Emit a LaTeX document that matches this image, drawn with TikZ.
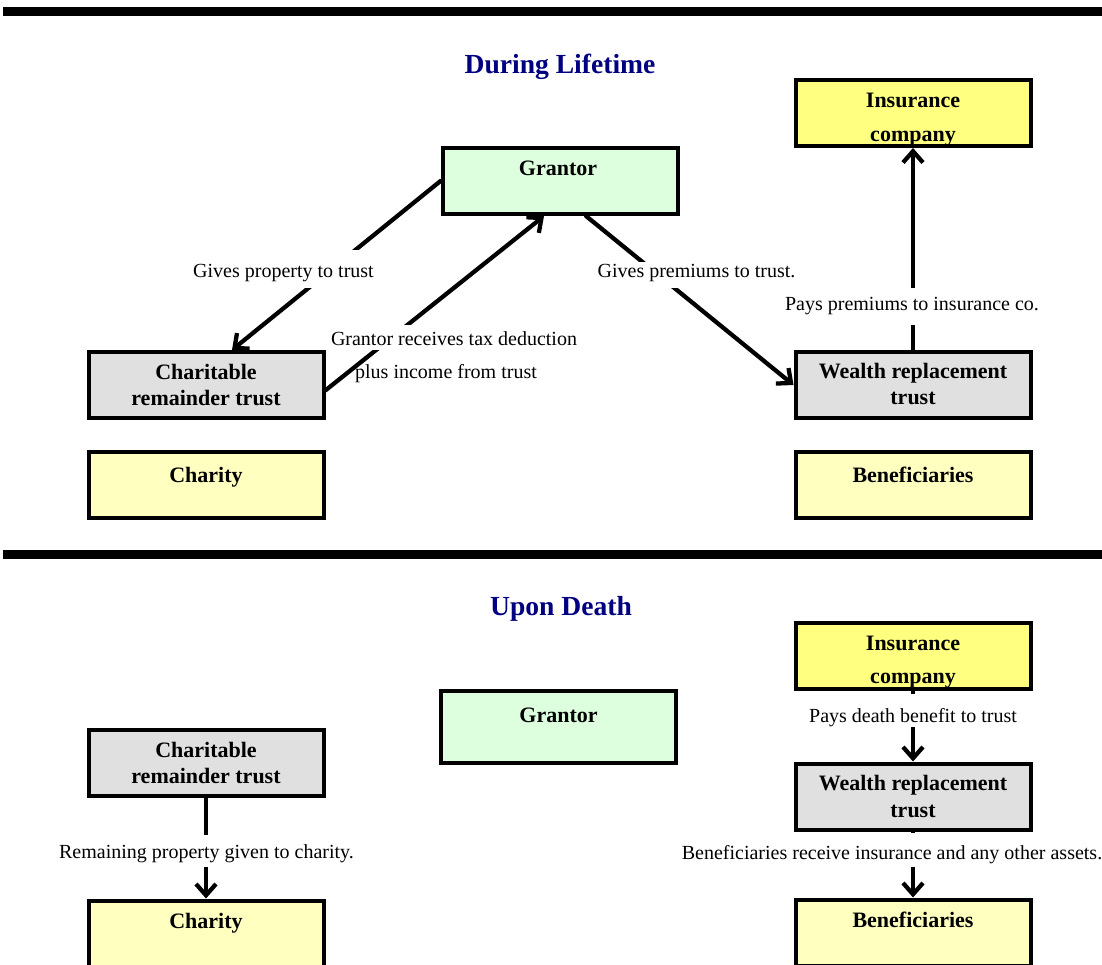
\documentclass[tikz,border=0pt]{standalone}
\usepackage{fontspec}
\setmainfont{Liberation Serif}
\usetikzlibrary{arrows.meta}
\definecolor{gfill}{HTML}{DDFFDD}
\definecolor{ifill}{HTML}{FFFF80}
\definecolor{tfill}{HTML}{E0E0E0}
\definecolor{cfill}{HTML}{FFFFC0}
\definecolor{navyt}{HTML}{000080}
\begin{document}
\begin{tikzpicture}[x=0.75pt,y=-0.75pt,
  box/.style={draw=black, line width=3pt, minimum width=176.25pt, minimum height=49.5pt, inner sep=0pt},
  btxt/.style={font=\fontsize{16.5}{20}\selectfont\bfseries, anchor=base, inner sep=0pt},
  ttl/.style={font=\fontsize{20.7}{25}\selectfont\bfseries, text=navyt, anchor=base, inner sep=0pt},
  lbl/.style={font=\fontsize{15}{18}\selectfont, anchor=base, inner xsep=2pt, inner ysep=0pt, fill=white},
  conn/.style={line width=3.2pt, line cap=round},
  arr/.style={conn, -{Straight Barb[length=8.5pt,width=15pt]}},
  bar/.style={line width=6.75pt}
]
\useasboundingbox (0,0) rectangle (1102,964);
\clip (0,0) rectangle (1102,964);

% section bars
\draw[bar] (3,11.5) -- (1102,11.5);
\draw[bar] (3,554.5) -- (1102,554.5);

% titles
\node[ttl] (t1) at (560,73) {During Lifetime};
\node[ttl] (t2) at (561,615) {Upon Death};

% boxes: during lifetime
\node[box, fill=ifill] (ins1) at (913,113) {};
\node[box, fill=gfill] (g1) at (560,181) {};
\node[box, fill=tfill] (crt1) at (206,385) {};
\node[box, fill=cfill] (ch1) at (206,485) {};
\node[box, fill=tfill] (wrt1) at (913,385) {};
\node[box, fill=cfill] (ben1) at (913,485) {};

% boxes: upon death
\node[box, fill=ifill] (ins2) at (913,656) {};
\node[box, fill=gfill, minimum height=54pt] (g2) at (558.5,726.5) {};
\node[box, fill=tfill] (crt2) at (206,763) {};
\node[box, fill=tfill] (wrt2) at (913,796.5) {};
\node[box, fill=cfill] (ch2) at (206,933.5) {};
\node[box, fill=cfill] (ben2) at (913,932.5) {};

% connectors
\draw[arr] (g1.west) -- ([xshift=19.5pt]crt1.north);
\draw[arr] ([yshift=-4pt]crt1.east) -- ([xshift=-12pt]g1.south);
\draw[arr] ([xshift=19.5pt]g1.south) -- (wrt1.west);
\draw[arr] (wrt1.north) -- (ins1.south);
\draw[arr] (crt2.south) -- (ch2.north);
\draw[arr] (ins2.south) -- (wrt2.north);
\draw[arr] (wrt2.south) -- (ben2.north);

% connector labels
\node[lbl, text height=20.25pt, text depth=8.25pt] (l1) at (283.5,277) {Gives property to trust};
\node[lbl, text height=15pt, text depth=3.75pt] (l2) at (454,345) {Grantor receives tax deduction};
\node[lbl, fill=none] (l3) at (446,378) {plus income from trust};
\node[lbl, text height=11.25pt, text depth=8.25pt] (l4) at (696.5,277) {Gives premiums to trust.};
\node[lbl, text height=16.5pt, text depth=11.25pt] (l5) at (912,310) {Pays premiums to insurance co.};
\node[lbl, text height=21pt, text depth=3.75pt] (l6) at (913,722) {Pays death benefit to trust};
\node[lbl, text height=17.25pt, text depth=6.75pt] (l7) at (206.5,858) {Remaining property given to charity.};
\node[lbl, text height=19.5pt, text depth=6pt] (l8) at (892,859) {Beneficiaries receive insurance and any other assets.};

% box texts: during lifetime
\node[btxt] (g1t) at (558,175) {Grantor};
\node[btxt] (ins1a) at (913,107) {Insurance};
\node[btxt] (ins1b) at (913,141) {company};
\node[btxt] (crt1a) at (206,379) {Charitable};
\node[btxt] (crt1b) at (206,405) {remainder trust};
\node[btxt] (ch1t) at (206,482) {Charity};
\node[btxt] (wrt1a) at (913,378) {Wealth replacement};
\node[btxt] (wrt1b) at (913,404) {trust};
\node[btxt] (ben1t) at (913,482) {Beneficiaries};

% box texts: upon death
\node[btxt] (g2t) at (558.5,722) {Grantor};
\node[btxt] (ins2a) at (913,650) {Insurance};
\node[btxt] (ins2b) at (913,683) {company};
\node[btxt] (crt2a) at (206,757) {Charitable};
\node[btxt] (crt2b) at (206,783) {remainder trust};
\node[btxt] (wrt2a) at (913,790) {Wealth replacement};
\node[btxt] (wrt2b) at (913,817) {trust};
\node[btxt] (ch2t) at (206,928) {Charity};
\node[btxt] (ben2t) at (913,927) {Beneficiaries};
\end{tikzpicture}
\end{document}
